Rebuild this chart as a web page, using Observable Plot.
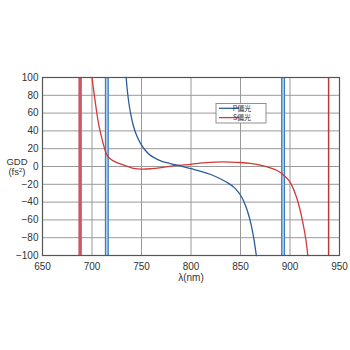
<!DOCTYPE html>
<html>
<head>
<meta charset="utf-8">
<script src="https://cdn.jsdelivr.net/npm/d3@7"></script>
<script src="https://cdn.jsdelivr.net/npm/@observablehq/plot@0.6"></script>
<style>
  html, body { margin: 0; padding: 0; background: #fff; }
  #chart { width: 350px; height: 350px; }
</style>
</head>
<body>
<div id="chart"></div>
<script>
// P-polarization (blue) GDD curve
const pWl  = [734.5, 736, 738, 740, 742, 745, 749, 754, 759, 765, 770, 780, 790, 800, 810, 820, 830, 838, 844, 848, 851, 854, 857, 860, 863, 866];
const pGdd = [100, 82, 66, 54, 45, 35, 26, 18, 12.5, 8.5, 6, 3, 0.5, -2.5, -5.5, -9, -14, -19, -24, -29, -34, -41, -50, -62, -78, -100];
// S-polarization (red) GDD curve
const sWl  = [700, 702, 703.5, 705, 707, 709, 711, 713, 715, 718, 722, 727, 735, 742, 750, 760, 770, 780, 790, 800, 812, 825, 840, 850, 860, 870, 880, 887, 894, 899, 903, 907, 910, 913, 916, 918];
const sGdd = [100, 83, 71, 59, 46, 36, 27, 19, 13, 9, 6, 3.5, 0.5, -2, -3, -2.5, -1.2, 0.5, 1.5, 2.5, 4, 5, 5, 4.5, 3.5, 1.5, -1.5, -4.5, -10, -16, -24, -36, -48, -63, -82, -100];
// resonance markers
const pMarks = [715, 893];
const sThick = [688];
const sThin = [939];

const xTicks = [650, 700, 750, 800, 850, 900, 950];
const yTicks = [-100, -80, -60, -40, -20, 0, 20, 40, 60, 80, 100];
const legendItems = [{label: "P偏光", color: "#2b5d9b"}, {label: "S偏光", color: "#d23a3a"}];

const pData = pWl.map((w, i) => ({w, g: pGdd[i]}));
const sData = sWl.map((w, i) => ({w, g: sGdd[i]}));

const plot = Plot.plot({
  width: 350,
  height: 350,
  marginLeft: 42,
  marginRight: 11,
  marginTop: 77,
  marginBottom: 95,
  style: {fontFamily: "'Liberation Sans', Arial, sans-serif", fontSize: "10px", color: "#333", background: "#fff"},
  x: {domain: [650, 950], ticks: xTicks, tickSize: 0, tickPadding: 7, label: null},
  y: {domain: [-100, 100], ticks: yTicks, tickSize: 0, tickPadding: 4, label: null},
  marks: [
    Plot.gridX(xTicks, {stroke: "#999", strokeOpacity: 1, strokeWidth: 1}),
    Plot.gridY(yTicks, {stroke: "#999", strokeOpacity: 1, strokeWidth: 1}),
    Plot.ruleX(sThick, {stroke: "#c85a66", strokeWidth: 3.5}),
    Plot.ruleX(sThin, {stroke: "#b83a3a", strokeWidth: 1.5}),
    Plot.ruleX(pMarks, {stroke: "#3f7fc0", strokeWidth: 4}),
    Plot.ruleX(pMarks, {stroke: "#d6e7f5", strokeWidth: 1.2}),
    Plot.line(sData, {x: "w", y: "g", stroke: "#d23a3a", strokeWidth: 1.3, curve: "catmull-rom"}),
    Plot.line(pData, {x: "w", y: "g", stroke: "#2b5d9b", strokeWidth: 1.3, curve: "catmull-rom"}),
    Plot.frame({stroke: "#555", strokeWidth: 1.2}),
    Plot.axisX(xTicks, {tickSize: 0, tickPadding: 7, label: null, fill: "#333"}),
    Plot.axisY(yTicks, {tickSize: 0, tickPadding: 4, label: null, fill: "#333"})
  ]
});

document.getElementById("chart").appendChild(plot);

const svg = d3.select(plot);
// y-axis title
const yt = svg.append("text")
  .attr("text-anchor", "middle")
  .attr("font-family", "'Liberation Sans', Arial, sans-serif")
  .attr("font-size", 9.5)
  .attr("fill", "#333");
yt.append("tspan").attr("x", 17).attr("y", 165).text("GDD");
const t2 = yt.append("tspan").attr("x", 17).attr("y", 175).text("(fs");
t2.append("tspan").attr("dy", -3).attr("font-size", 6).text("2");
t2.append("tspan").attr("dy", 3).text(")");

// x-axis title
svg.append("text")
  .attr("x", 191).attr("y", 281)
  .attr("text-anchor", "middle")
  .attr("font-family", "'Liberation Sans', Arial, sans-serif")
  .attr("font-size", 10)
  .attr("fill", "#333")
  .text("λ(nm)");

// legend
const lg = svg.append("g");
lg.append("rect").attr("x", 216).attr("y", 103.5).attr("width", 50).attr("height", 19.5)
  .attr("fill", "#fff").attr("stroke", "#777").attr("stroke-width", 0.8);
legendItems.forEach((d, i) => {
  const yy = 108.3 + i * 9.3;
  lg.append("line").attr("x1", 219).attr("x2", 239).attr("y1", yy).attr("y2", yy)
    .attr("stroke", d.color).attr("stroke-width", 1.3);
  lg.append("text").attr("x", 242).attr("y", yy + 2.5)
    .attr("font-family", "'Noto Sans CJK JP', sans-serif")
    .attr("font-size", 7).attr("fill", "#333").text(d.label);
});
</script>
</body>
</html>
